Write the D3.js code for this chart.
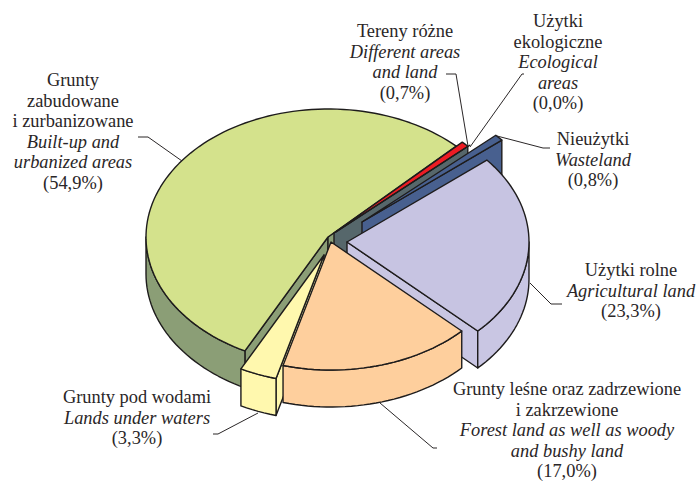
<!DOCTYPE html>
<html lang="pl">
<head>
  <meta charset="UTF-8">
  <title>Grunty</title>
  <script src="https://d3js.org/d3.v7.min.js"></script>
  <style>
    html, body { margin: 0; padding: 0; background: #fff; overflow: hidden; }
    svg { display: block; }
    text { font-family: "Liberation Serif", serif; font-size: 18.4px; fill: #2a2627; text-anchor: middle; }
    .en { font-style: italic; }
    .leader { fill: none; stroke: #2a2627; stroke-width: 1; }
    .face { stroke: #1e1c1c; stroke-width: 1.4; stroke-linejoin: round; }
  </style>
</head>
<body>
<svg id="chart" width="698" height="481"></svg>

<script>
    // Slices, clockwise from the built-up wedge's trailing edge
    const keys = ["other", "eco", "waste", "agri", "forest", "water", "built"];
    const values = [0.7, 0.0, 0.8, 23.3, 17.0, 3.3, 54.9];
    const namesPl = [
      ["Tereny różne"],
      ["Użytki", "ekologiczne"],
      ["Nieużytki"],
      ["Użytki rolne"],
      ["Grunty leśne oraz zadrzewione", "i zakrzewione"],
      ["Grunty pod wodami"],
      ["Grunty", "zabudowane", "i zurbanizowane"]
    ];
    const namesEn = [
      ["Different areas", "and land"],
      ["Ecological", "areas"],
      ["Wasteland"],
      ["Agricultural land"],
      ["Forest land as well as woody", "and bushy land"],
      ["Lands under waters"],
      ["Built-up and", "urbanized areas"]
    ];

    // Look of the pie
    const rx = 182, ry = 128, depth = 37;
    const startDeg = 44.8;
    const centers = {
      other: [334, 233], eco: [336, 232], waste: [362, 222], agri: [347, 242],
      forest: [331, 242], water: [324, 255], built: [328, 237]
    };
    const topColor = {
      other: "#ed1c24", eco: "#222", waste: "#48608f", agri: "#c7c4e2",
      forest: "#fecf9d", water: "#fff8ae", built: "#d4e28c"
    };
    const wallColor = {
      other: "#56676b", eco: "#222", waste: "#48608f", agri: "#c9c6e3",
      forest: "#fecf9d", water: "#fff8ae", built: "#8b9e76"
    };
    const startWall = { water: "#fff8ae", built: "#8b9e76" };
    // yellow goes under the orange wedge, so only a strip of its side shows
    const paintOrder = ["built", "other", "eco", "waste", "agri", "water", "forest"];

    // Label placement: centre x, first baseline
    const labelAt = {
      other: [405, 37], eco: [558, 27], waste: [593, 145], agri: [631, 276],
      forest: [567, 395], water: [137, 403], built: [73, 86]
    };
    const lineStep = 20.5;
    const leaders = {
      other: [[446, 74], [456, 74], [468, 146]],
      eco: [[524, 74], [522, 74], [470, 147]],
      waste: [[550, 148], [543, 148], [497, 136]],
      agri: [[562, 304], [551, 304], [530, 283]],
      forest: [[437, 448], [433, 448], [380, 403]],
      water: [[213, 434], [218, 434], [258, 413]],
      built: [[138, 137], [148, 137], [182, 161]]
    };

    const svg = d3.select("#chart");
    const rad = d => d * Math.PI / 180;

    const pie = d3.pie().sort(null)
      .startAngle(rad(startDeg)).endAngle(rad(startDeg + 360));
    const arcs = pie(values);
    const byKey = {};
    keys.forEach((k, i) => { byKey[k] = arcs[i]; });

    const point = (k, t, drop) => [
      centers[k][0] + rx * Math.sin(t),
      centers[k][1] - ry * Math.cos(t) + (drop || 0)
    ];
    const line = d3.line();

    // sample an ellipse stretch between two pie angles
    function rim(k, a, b, drop) {
      const n = Math.max(2, Math.ceil(Math.abs(b - a) / rad(2)));
      return d3.range(n + 1).map(i => point(k, a + (b - a) * i / n, drop));
    }

    function radialWall(k, t) {
      const c = centers[k];
      const p = point(k, t);
      return [c, p, [p[0], p[1] + depth], [c[0], c[1] + depth]];
    }

    const g = svg.append("g");

    paintOrder.forEach(k => {
      const d = byKey[k];
      const a = d.startAngle, b = d.endAngle;
      const layer = g.append("g").attr("class", "slice-" + k);

      // side faces that look towards the viewer
      if (Math.sin(a) < 0 && startWall[k]) {
        layer.append("path").attr("class", "face")
          .attr("fill", startWall[k])
          .attr("d", line(radialWall(k, a)) + "Z");
      }
      if (Math.sin(b) > 0 && b > a) {
        layer.append("path").attr("class", "face")
          .attr("fill", wallColor[k])
          .attr("d", line(radialWall(k, b)) + "Z");
      }

      // outer wall: the part of the rim on the near side of the ellipse
      const from = Math.max(a, Math.PI / 2), to = Math.min(b, Math.PI * 1.5);
      if (to > from) {
        const upper = rim(k, from, to, 0);
        const lower = rim(k, to, from, depth);
        layer.append("path").attr("class", "face")
          .attr("fill", wallColor[k])
          .attr("d", line(upper.concat(lower)) + "Z");
      }

      // top face
      const top = [centers[k]].concat(rim(k, a, b, 0));
      layer.append("path").attr("class", "face")
        .attr("fill", topColor[k])
        .attr("d", line(top) + "Z");
    });

    // Leaders
    keys.forEach(k => {
      svg.append("path").attr("class", "leader").attr("d", line(leaders[k]));
    });

    // Labels
    const fmtPct = v => "(" + v.toFixed(1).replace(".", ",") + "%)";
    keys.forEach((k, i) => {
      const [x, y0] = labelAt[k];
      const rows = namesPl[i].map(t => ({ t, cls: "pl" }))
        .concat(namesEn[i].map(t => ({ t, cls: "en" })))
        .concat([{ t: fmtPct(values[i]), cls: "pct" }]);
      rows.forEach((r, j) => {
        svg.append("text").attr("class", r.cls)
          .attr("x", x).attr("y", y0 + j * lineStep)
          .text(r.t);
      });
    });
</script>
</body>
</html>
